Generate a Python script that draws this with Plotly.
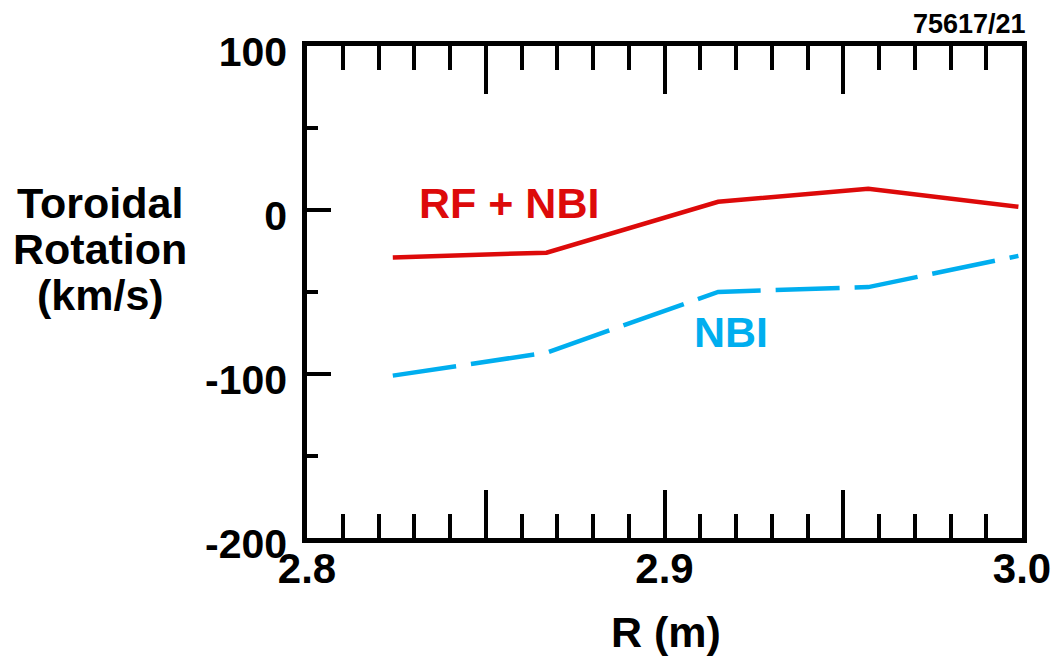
import numpy as np
import plotly.graph_objects as go

# ---- data ----
R_rf = [2.824, 2.867, 2.915, 2.957, 2.999]
V_rf = [-29, -26, 5, 13, 2]
R_nbi = [2.824, 2.867, 2.915, 2.957, 2.999]
V_nbi = [-101, -87, -50, -47, -28]

x_major = [2.8, 2.85, 2.9, 2.95, 3.0]
x_major_text = ["2.8", "", "2.9", "", "3.0"]
y_major = [100, 0, -100, -200]
y_major_text = ["100", "0", "-100", "-200"]
y_minor = [50, -50, -150]
x_minor = [round(v, 2) for v in np.arange(2.81, 3.0, 0.01) if round(v * 100) % 5 != 0]
y_title_lines = ["Toroidal", "Rotation", "(km/s)"]

RED = "#DD0A0A"
BLUE = "#00AEEF"
FONT = "Liberation Sans, Arial, Helvetica, sans-serif"

fig = go.Figure()
fig.add_trace(go.Scatter(x=R_rf, y=V_rf, mode="lines",
                         line=dict(color=RED, width=4.5), showlegend=False))
fig.add_trace(go.Scatter(x=R_nbi, y=V_nbi, mode="lines",
                         line=dict(color=BLUE, width=4.5, dash="64px,15px"), showlegend=False))

fig.update_xaxes(
    range=[2.8, 3.0], showgrid=False, zeroline=False, automargin=False,
    showline=True, linecolor="black", linewidth=4.5, mirror="ticks",
    tickmode="array", tickvals=x_major, ticktext=x_major_text,
    ticks="inside", ticklen=48, tickwidth=4, tickcolor="black",
    minor=dict(tickmode="array", tickvals=x_minor, ticks="inside",
               ticklen=24, tickwidth=4, tickcolor="black", showgrid=False),
    tickfont=dict(family=FONT, size=42, color="black", weight=700),
    ticklabelstandoff=-10,
)
fig.update_yaxes(
    range=[-200, 100], showgrid=False, zeroline=False, automargin=False,
    showline=True, linecolor="black", linewidth=4.5, mirror=True,
    tickmode="array", tickvals=y_major, ticktext=y_major_text,
    ticks="inside", ticklen=24, tickwidth=4, tickcolor="black",
    minor=dict(tickmode="array", tickvals=y_minor, ticks="inside",
               ticklen=11, tickwidth=4, tickcolor="black", showgrid=False),
    tickfont=dict(family=FONT, size=41, color="black", weight=700),
    ticklabelstandoff=7, ticklabelshift=6,
)

annos = [
    dict(text="R (m)", x=(666 - 307) / 715, y=-0.191, size=43, color="black"),
    dict(text="RF + NBI", x=(509 - 307) / 715, y=(538 - 203) / 492, size=43, color=RED),
    dict(text="NBI", x=(731 - 307) / 715, y=(538 - 332) / 492, size=43, color=BLUE),
]
for i, line in enumerate(y_title_lines):
    annos.append(dict(text=line, x=(100 - 307) / 715, y=(538 - (203 + 46 * i)) / 492,
                      size=43, color="black"))
for a in annos:
    fig.add_annotation(text=a["text"], x=a["x"], y=a["y"], xref="paper", yref="paper",
                       xanchor="center", yanchor="middle", showarrow=False,
                       font=dict(family=FONT, size=a["size"], color=a["color"], weight=700))
fig.add_annotation(text="75617/21", x=1.0, y=(538 - 24) / 492, xref="paper", yref="paper",
                   xanchor="right", yanchor="middle", showarrow=False, xshift=6,
                   font=dict(family=FONT, size=27, color="black", weight=700))

fig.update_layout(
    width=1055, height=657,
    margin=dict(l=307, r=33, t=46, b=119, autoexpand=False),
    paper_bgcolor="white", plot_bgcolor="white",
)
fig.write_html("out.html", config={"displayModeBar": False})
